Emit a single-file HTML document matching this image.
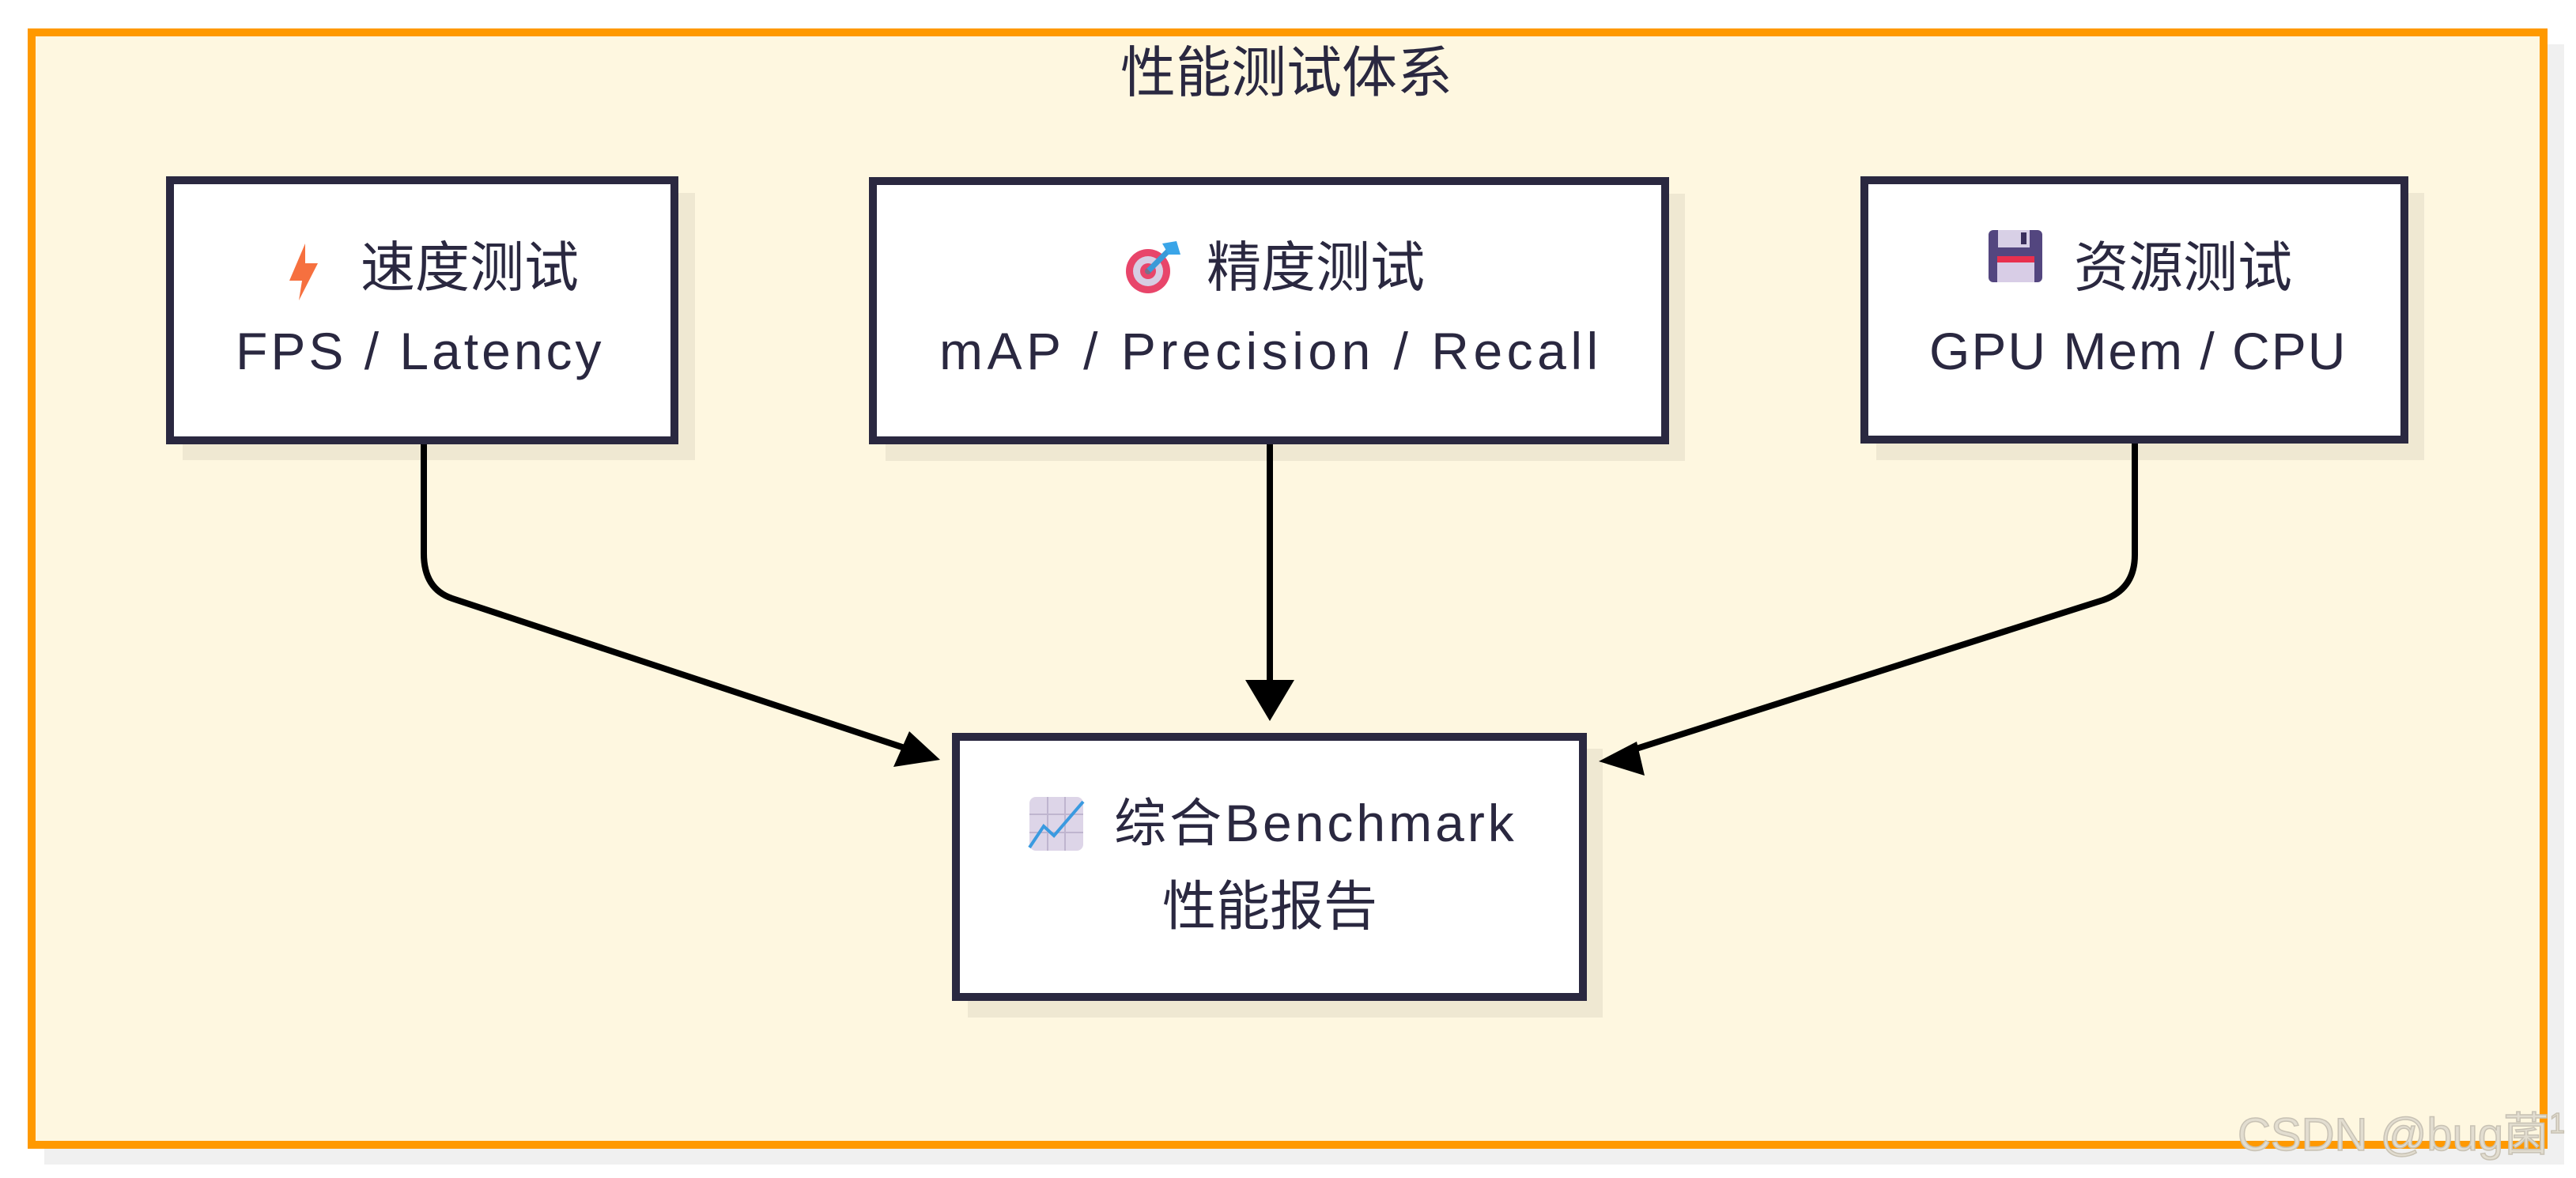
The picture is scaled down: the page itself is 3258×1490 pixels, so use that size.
<!DOCTYPE html>
<html><head><meta charset="utf-8"><style>
html,body{margin:0;padding:0;background:#fff;}
svg{display:block;}
text{font-family:"Liberation Sans","Noto Sans CJK SC",sans-serif;fill:#2a2840;}
</style></head><body>
<svg width="3258" height="1490" viewBox="0 0 3258 1490" xmlns="http://www.w3.org/2000/svg">
<rect x="56" y="56" width="3187" height="1417" fill="#f0f0f0"/>
<rect x="40" y="41" width="3177" height="1407" fill="#fef7e0" stroke="#ff9900" stroke-width="10"/>
<text x="1627" y="116" font-size="70" text-anchor="middle">性能测试体系</text>

<rect x="231" y="244" width="648" height="338" fill="#efe8d2"/>
<rect x="1120" y="245" width="1011" height="338" fill="#efe8d2"/>
<rect x="2373" y="244" width="693" height="338" fill="#efe8d2"/>
<rect x="1224" y="947" width="803" height="340" fill="#efe8d2"/>

<rect x="215" y="228" width="638" height="329" fill="#fff" stroke="#2a2840" stroke-width="10"/>
<rect x="1104" y="229" width="1002" height="328" fill="#fff" stroke="#2a2840" stroke-width="10"/>
<rect x="2358" y="228" width="683" height="328" fill="#fff" stroke="#2a2840" stroke-width="10"/>
<rect x="1209" y="932" width="793" height="329" fill="#fff" stroke="#2a2840" stroke-width="10"/>

<g fill="none" stroke="#000" stroke-width="8">
<path d="M536 562 V700 Q536 745 572 757 L1150 948"/>
<path d="M1606 562 V862"/>
<path d="M2700 561 V702 Q2700 745 2660 759 L2060 950"/>
</g>
<polygon points="1189,961 1130,970 1150,925" fill="#000"/>
<polygon points="1606,912 1575,860 1637,860" fill="#000"/>
<polygon points="2022,963 2070,938 2080,981" fill="#000"/>

<polygon points="386,308 366,355 382,355 378,380 402,333 386,333" fill="#f6703f"/>
<g>
<circle cx="1452" cy="343" r="28" fill="#e8456a"/>
<circle cx="1452" cy="343" r="19" fill="#d7cde3"/>
<circle cx="1452" cy="343" r="10" fill="#e8456a"/>
<circle cx="1452" cy="343" r="4" fill="#7a7088"/>
<line x1="1453" y1="342" x2="1480" y2="315" stroke="#3a9ad8" stroke-width="7"/>
<polygon points="1470,308 1488,305 1493,322 1478,322" fill="#3aa5e8"/>
</g>
<g>
<rect x="2515" y="291" width="68" height="66" rx="6" fill="#53467f"/>
<rect x="2527" y="291" width="40" height="22" fill="#d8d0e6"/>
<rect x="2556" y="294" width="7" height="15" fill="#3a2f5c"/>
<rect x="2526" y="324" width="47" height="33" fill="#d8cde6"/>
<rect x="2526" y="324" width="47" height="8" fill="#e8304e"/>
</g>
<g>
<rect x="1302" y="1008" width="68" height="68" rx="8" fill="#ddd5e8"/>
<g stroke="#bfb5cf" stroke-width="2"><line x1="1325" y1="1008" x2="1325" y2="1076"/><line x1="1347" y1="1008" x2="1347" y2="1076"/><line x1="1302" y1="1030" x2="1370" y2="1030"/><line x1="1302" y1="1053" x2="1370" y2="1053"/></g>
<polyline points="1302,1072 1320,1045 1333,1057 1370,1014" fill="none" stroke="#3a9ae0" stroke-width="4"/>
</g>

<text x="456" y="362" font-size="69">速度测试</text>
<text x="298" y="467" font-size="66" letter-spacing="4">FPS / Latency</text>
<text x="1526" y="362" font-size="69">精度测试</text>
<text x="1188" y="467" font-size="66" letter-spacing="5.5">mAP / Precision / Recall</text>
<text x="2623" y="362" font-size="69">资源测试</text>
<text x="2440" y="467" font-size="66" letter-spacing="2">GPU Mem / CPU</text>
<text x="1409" y="1064" font-size="66" letter-spacing="4">综合Benchmark</text>
<text x="1606" y="1170" font-size="68" text-anchor="middle">性能报告</text>

<text x="2830" y="1455" font-size="58" style="fill:#e2ddd0;stroke:#c8c2b4;stroke-width:1.5">CSDN @bug菌<tspan font-size="36" dy="-22">1</tspan></text>
</svg>
</body></html>
